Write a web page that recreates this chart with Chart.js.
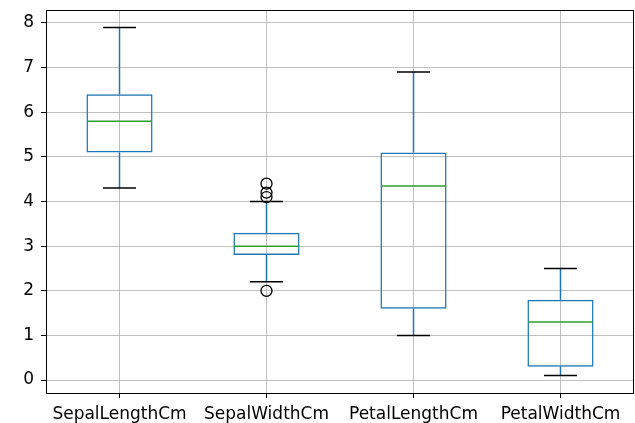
<!DOCTYPE html>
<html>
<head>
<meta charset="utf-8">
<script src="https://cdn.jsdelivr.net/npm/chart.js@4"></script>
<style>
  body { margin: 0; background: #fff; }
</style>
</head>
<body>
<canvas id="boxChart" width="635" height="423"></canvas>
<script>
// box plot numbers per column
const columns = ['SepalLengthCm', 'SepalWidthCm', 'PetalLengthCm', 'PetalWidthCm'];
const whiskerLow = [4.3, 2.2, 1.0, 0.1];
const quartile1 = [5.1, 2.8, 1.6, 0.3];
const medians = [5.8, 3.0, 4.35, 1.3];
const quartile3 = [6.4, 3.3, 5.1, 1.8];
const whiskerHigh = [7.9, 4.0, 6.9, 2.5];
const outlierColumns = ['SepalWidthCm', 'SepalWidthCm', 'SepalWidthCm', 'SepalWidthCm'];
const outlierValues = [4.4, 4.2, 4.1, 2.0];
const yTicks = [0, 1, 2, 3, 4, 5, 6, 7, 8];

const BOX_WIDTH = 0.45;
const BLUE = '#1f77b4';
const GREEN = '#2ca02c';

function strokeLine(ctx, x1, y1, x2, y2) {
    ctx.beginPath();
    ctx.moveTo(x1, y1);
    ctx.lineTo(x2, y2);
    ctx.stroke();
}

// whiskers, caps, medians and the frame
const boxLines = {
    id: 'boxLines',
    beforeDatasetsDraw(chart) {
        const { ctx, scales: { x, y } } = chart;
        const step = x.getPixelForValue(1) - x.getPixelForValue(0);
        const capHalf = step * BOX_WIDTH / 4;
        ctx.save();
        ctx.lineWidth = 1.5;
        columns.forEach((col, i) => {
            const cx = x.getPixelForValue(i);
            ctx.strokeStyle = BLUE;
            strokeLine(ctx, cx, y.getPixelForValue(quartile1[i]), cx, y.getPixelForValue(whiskerLow[i]));
            strokeLine(ctx, cx, y.getPixelForValue(quartile3[i]), cx, y.getPixelForValue(whiskerHigh[i]));
            ctx.strokeStyle = '#000';
            strokeLine(ctx, cx - capHalf, y.getPixelForValue(whiskerLow[i]), cx + capHalf, y.getPixelForValue(whiskerLow[i]));
            strokeLine(ctx, cx - capHalf, y.getPixelForValue(whiskerHigh[i]), cx + capHalf, y.getPixelForValue(whiskerHigh[i]));
        });
        ctx.restore();
    },
    afterDatasetsDraw(chart) {
        const { ctx, scales: { x, y } } = chart;
        const step = x.getPixelForValue(1) - x.getPixelForValue(0);
        const half = step * BOX_WIDTH / 2;
        ctx.save();
        ctx.lineWidth = 1.5;
        ctx.strokeStyle = GREEN;
        columns.forEach((col, i) => {
            const cx = x.getPixelForValue(i);
            const my = y.getPixelForValue(medians[i]);
            strokeLine(ctx, cx - half + 1, my, cx + half - 1, my);
        });
        ctx.restore();
    },
    afterDraw(chart) {
        const { ctx, chartArea: a } = chart;
        ctx.save();
        ctx.strokeStyle = '#000';
        ctx.lineWidth = 1;
        ctx.strokeRect(Math.round(a.left) + 0.5, Math.round(a.top) + 0.5,
            Math.round(a.right - a.left) - 1, Math.round(a.bottom - a.top));
        ctx.restore();
    }
};

const tickFont = { family: 'DejaVu Sans', size: 17 };

new Chart(document.getElementById('boxChart'), {
    type: 'bar',
    data: {
        labels: columns,
        datasets: [{
            label: 'box',
            data: columns.map((c, i) => [quartile1[i], quartile3[i]]),
            backgroundColor: 'rgba(0,0,0,0)',
            borderColor: BLUE,
            borderWidth: 1.5,
            borderSkipped: false,
            barPercentage: BOX_WIDTH,
            categoryPercentage: 1.0
        }, {
            type: 'scatter',
            label: 'outliers',
            data: outlierValues.map((v, i) => ({ x: outlierColumns[i], y: v })),
            pointStyle: 'circle',
            pointRadius: 5.5,
            pointBorderWidth: 1.3,
            pointBorderColor: '#000',
            pointBackgroundColor: 'rgba(0,0,0,0)'
        }]
    },
    options: {
        responsive: false,
        animation: false,
        layout: { autoPadding: false, padding: { top: 10, right: 1, left: 0, bottom: 0 } },
        plugins: {
            legend: { display: false },
            tooltip: { enabled: false }
        },
        scales: {
            x: {
                type: 'category',
                offset: true,
                grid: {
                    offset: false,
                    color: '#b0b0b0',
                    lineWidth: 0.8,
                    tickColor: '#000',
                    tickWidth: 1,
                    tickLength: 5
                },
                border: { display: false },
                ticks: { font: tickFont, color: '#000', padding: 6, maxRotation: 0, autoSkip: false },
                afterFit(scale) {
                    scale.height = 30;
                    scale.paddingLeft = 0;
                    scale.paddingRight = 0;
                }
            },
            y: {
                min: -0.29,
                max: 8.29,
                grid: {
                    color: '#b0b0b0',
                    lineWidth: 0.8,
                    tickColor: '#000',
                    tickWidth: 1,
                    tickLength: 5
                },
                border: { display: false },
                ticks: { font: tickFont, color: '#000', padding: 7 },
                afterBuildTicks(scale) { scale.ticks = yTicks.map(v => ({ value: v })); },
                afterFit(scale) {
                    scale.width = 46;
                    scale.paddingTop = 0;
                    scale.paddingBottom = 0;
                }
            }
        }
    },
    plugins: [boxLines]
});
</script>
</body>
</html>
